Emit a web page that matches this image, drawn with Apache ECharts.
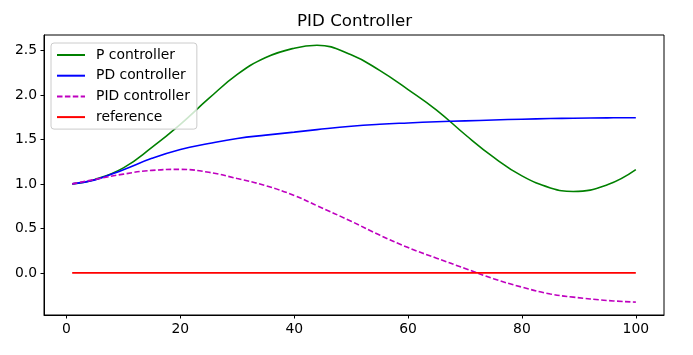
<!DOCTYPE html>
<html>
<head>
<meta charset="utf-8">
<script src="https://cdn.jsdelivr.net/npm/echarts@6/dist/echarts.min.js"></script>
<style>html,body{margin:0;padding:0;background:#fff;}#c{width:693px;height:355px;}</style>
</head>
<body>
<div id="c"></div>
<script>
var steps = [1, 5, 10, 15, 20, 25, 30, 35, 40, 44, 50, 55, 60, 65, 70, 75, 80, 85, 89, 95, 100];
var pController = [1.00, 1.05, 1.18, 1.41, 1.67, 1.96, 2.23, 2.42, 2.525, 2.557, 2.45, 2.275, 2.06, 1.83, 1.555, 1.30, 1.09, 0.955, 0.915, 0.99, 1.16];
var pdController = [1.00, 1.045, 1.16, 1.287, 1.387, 1.453, 1.51, 1.548, 1.582, 1.61, 1.648, 1.67, 1.685, 1.698, 1.708, 1.718, 1.727, 1.734, 1.738, 1.742, 1.744];
var pidController = [1.00, 1.05, 1.11, 1.152, 1.163, 1.13, 1.06, 0.98, 0.87, 0.755, 0.58, 0.425, 0.285, 0.165, 0.05, -0.065, -0.16, -0.237, -0.272, -0.31, -0.328];
var reference = [0, 0, 0, 0, 0, 0, 0, 0, 0, 0, 0, 0, 0, 0, 0, 0, 0, 0, 0, 0, 0];
var xTicks = [0, 20, 40, 60, 80, 100];
var yTicks = [0.0, 0.5, 1.0, 1.5, 2.0, 2.5];

function pairs(ys) { return steps.map(function (x, i) { return [x, ys[i]]; }); }

var font = 'DejaVu Sans';
var chart = echarts.init(document.getElementById('c'), null, { renderer: 'canvas' });
function mk(name, data, color, dashed) {
  return {
    name: name, type: 'line', data: pairs(data), smooth: 0.45, showSymbol: false, symbol: 'none',
    lineStyle: { color: color, width: 1.6, type: dashed ? [5.5, 2.4] : 'solid' },
    itemStyle: { color: color }, animation: false, silent: true
  };
}
chart.setOption({
  animation: false,
  backgroundColor: '#fff',
  title: {
    text: 'PID Controller', left: 292, top: 8,
    textStyle: { fontFamily: font, fontSize: 16.7, fontWeight: 'normal', color: '#000' }
  },
  grid: { left: 44, right: 29, top: 35, bottom: 40, show: true, borderColor: '#000', borderWidth: 1, backgroundColor: 'transparent' },
  legend: {
    orient: 'vertical', left: 51, top: 43,
    itemWidth: 28, itemHeight: 14, itemGap: 6.7,
    padding: [5, 7, 5, 5],
    backgroundColor: 'rgba(255,255,255,0.8)', borderColor: '#cccccc', borderWidth: 1, borderRadius: 3,
    itemStyle: { opacity: 0, color: 'rgba(0,0,0,0)', borderWidth: 0 },
    textStyle: { fontFamily: font, fontSize: 13.9, color: '#000', padding: [0, 0, 0, 6] },
    data: ['P controller', 'PD controller', 'PID controller', 'reference']
  },
  xAxis: {
    type: 'value', min: -3.95, max: 104.95,
    splitLine: { show: false },
    axisLine: { show: true, onZero: false, lineStyle: { color: '#000', width: 1 } },
    axisTick: { show: true, length: 3.5, customValues: xTicks, lineStyle: { color: '#000' } },
    axisLabel: { customValues: xTicks, margin: 7, fontFamily: font, fontSize: 13.9, color: '#000' }
  },
  yAxis: {
    type: 'value', min: -0.473, max: 2.673,
    splitLine: { show: false },
    axisLine: { show: true, onZero: false, lineStyle: { color: '#000', width: 1 } },
    axisTick: { show: true, length: 3.5, customValues: yTicks, lineStyle: { color: '#000' } },
    axisLabel: { customValues: yTicks, margin: 7, fontFamily: font, fontSize: 13.9, color: '#000',
      formatter: function (v) { return v.toFixed(1); } }
  },
  series: [
    mk('P controller', pController, '#008000', false),
    mk('PD controller', pdController, '#0000ff', false),
    mk('PID controller', pidController, '#bf00bf', true),
    mk('reference', reference, '#ff0000', false)
  ]
});
</script>
</body>
</html>
